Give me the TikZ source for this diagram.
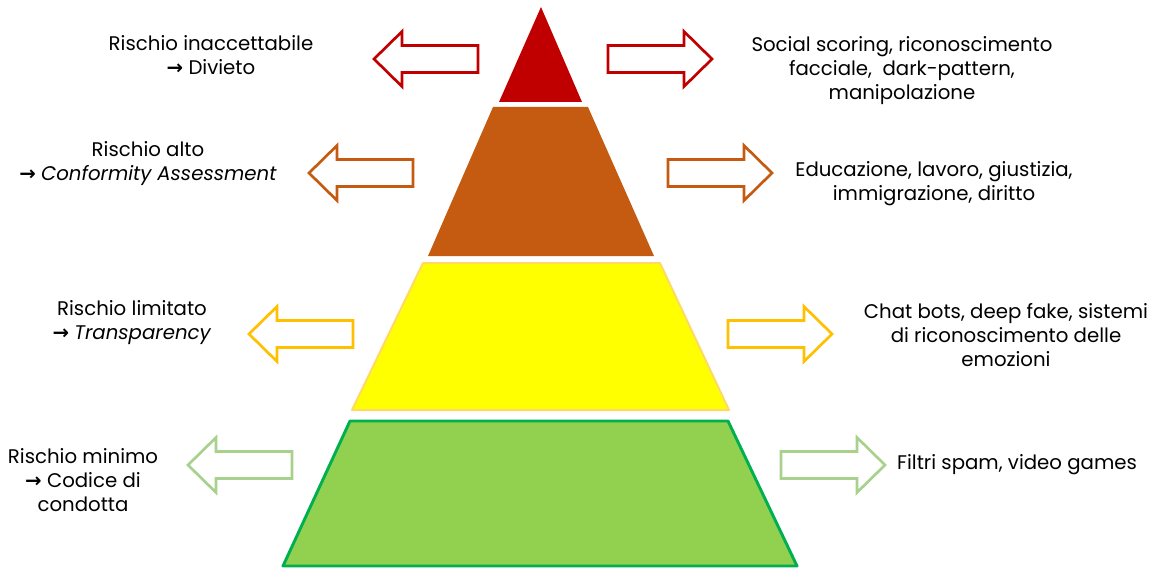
\documentclass[tikz,border=0pt]{standalone}
\usepackage{fontspec}
\setmainfont{Poppins}
\newfontfamily\arr{DejaVu Sans}
\definecolor{redc}{HTML}{C00000}
\definecolor{orangec}{HTML}{C55A11}
\definecolor{yellowc}{HTML}{FFFF00}
\definecolor{yellowline}{HTML}{FFD966}
\definecolor{yellowarr}{HTML}{FFC000}
\definecolor{greenc}{HTML}{92D050}
\definecolor{greenline}{HTML}{00B050}
\definecolor{greenarr}{HTML}{A9D18E}
\newcommand\arrR[3]{\draw[#3] (#1,#2) ++(0,-13.5) -- ++(76,0) -- ++(0,-14) -- ++(28,27.5) -- ++(-28,27.5) -- ++(0,-14) -- ++(-76,0) -- cycle;}
\newcommand\arrL[3]{\draw[#3] (#1,#2) ++(0,-13.5) -- ++(-76,0) -- ++(0,-14) -- ++(-28,27.5) -- ++(28,27.5) -- ++(0,-14) -- ++(76,0) -- cycle;}
\newcommand\ar{{\arr\bfseries →}}
\begin{document}
\begin{tikzpicture}[x=0.75pt,y=-0.75pt,
  lbl/.style={align=center,font=\fontsize{14.8}{18}\selectfont,inner sep=0pt},
  blockarr/.style={line width=2pt,line join=miter,fill=white}]
\useasboundingbox (0,0) rectangle (1155,570);
% pyramid
\fill[redc] (541,7) -- (582,102) -- (499,102) -- cycle;
\fill[orangec] (493,107) -- (588,107) -- (654,256) -- (428,256) -- cycle;
\filldraw[fill=yellowc,draw=yellowline,line width=1.5pt,line join=round] (423,263) -- (660,263) -- (729,410) -- (352,410) -- cycle;
\filldraw[fill=greenc,draw=greenline,line width=2.2pt,line join=round] (350,421) -- (728,421) -- (797,566) -- (283,566) -- cycle;
% block arrows
\arrL{478}{59}{blockarr,draw=redc}
\arrR{608}{59}{blockarr,draw=redc}
\arrL{413}{173}{blockarr,draw=orangec}
\arrR{668}{173}{blockarr,draw=orangec}
\arrL{353}{334}{blockarr,draw=yellowarr}
\arrR{728}{334}{blockarr,draw=yellowarr}
\arrL{292}{465}{blockarr,draw=greenarr}
\arrR{781}{465}{blockarr,draw=greenarr}
% labels
\node[lbl] (t1) at (211,55) {Rischio inaccettabile\\\ar\ Divieto};
\node[lbl] (t2) at (148,164) {Rischio alto\\\ar\ \textit{Conformity Assessment}};
\node[lbl] (t3) at (132,323) {Rischio limitato\\\ar\ \textit{Transparency}};
\node[lbl] (t4) at (83,480) {Rischio minimo\\\ar\ Codice di\\condotta};
\node[lbl] (r1) at (902,71) {Social scoring, riconoscimento\\facciale,\ \ dark-pattern,\\manipolazione};
\node[lbl] (r2) at (934,184) {Educazione, lavoro, giustizia,\\immigrazione, diritto};
\node[lbl] (r3) at (1006,335) {Chat bots, deep fake, sistemi\\di riconoscimento delle\\emozioni};
\node[lbl] (r4) at (1017,465) {Filtri spam, video games};
\end{tikzpicture}
\end{document}
